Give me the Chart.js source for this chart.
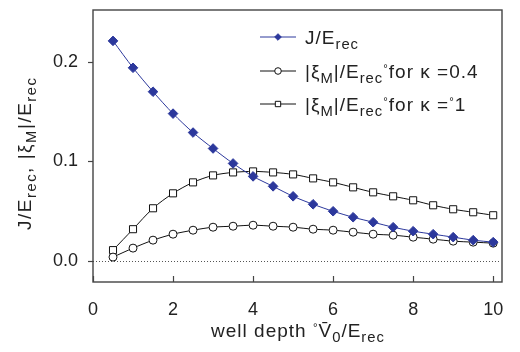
<!DOCTYPE html>
<html>
<head>
<meta charset="utf-8">
<script src="https://cdn.jsdelivr.net/npm/chart.js@4/dist/chart.umd.min.js"></script>
<style>
  html, body { margin: 0; padding: 0; background: #fff; }
  #wrap { width: 520px; height: 352px; }
</style>
</head>
<body>
<div id="wrap"><canvas id="grafico"></canvas></div>
<script>
// valores
const profundidade = [0.5, 1, 1.5, 2, 2.5, 3, 3.5, 4, 4.5, 5, 5.5, 6, 6.5, 7, 7.5, 8, 8.5, 9, 9.5, 10];
const jErec = [0.221, 0.194, 0.170, 0.148, 0.129, 0.113, 0.098, 0.085, 0.075, 0.065,
  0.057, 0.050, 0.044, 0.039, 0.034, 0.030, 0.027, 0.024, 0.021, 0.019];
const xiKappa04 = [0.004, 0.013, 0.021, 0.027, 0.031, 0.034, 0.035, 0.036, 0.035, 0.034,
  0.032, 0.031, 0.029, 0.027, 0.026, 0.024, 0.022, 0.020, 0.019, 0.018];
const xiKappa1 = [0.011, 0.032, 0.053, 0.068, 0.079, 0.086, 0.089, 0.090, 0.089, 0.087,
  0.083, 0.079, 0.074, 0.069, 0.065, 0.061, 0.056, 0.052, 0.049, 0.046];
const xTicks = [0, 2, 4, 6, 8, 10];
const yTicks = [0.0, 0.1, 0.2];

const FONTE = '"Liberation Sans", Arial, sans-serif';
const AZUL = '#2c389c';

const pontos = (ys) => profundidade.map((x, i) => ({ x: x, y: ys[i] }));

// texto com subscritos: partes = [[texto, 'n'|'sub'|'sup'], ...], desenhado letra a letra
function estiloParte(tipo, tam) {
  if (tipo === 'sub') return { s: tam * 0.78, dy: tam * 0.27 };
  if (tipo === 'sup') return { s: tam * 0.6, dy: -tam * 0.34 };
  return { s: tam, dy: 0 };
}
function textoRico(ctx, partes, x, y, tam, esp, desenhar) {
  ctx.textBaseline = 'alphabetic';
  ctx.textAlign = 'left';
  const x0 = x;
  partes.forEach(([t, tipo]) => {
    const { s, dy } = estiloParte(tipo, tam);
    ctx.font = s + 'px ' + FONTE;
    (t.match(/.\u0304?/gu) || []).forEach(c => {
      if (desenhar) ctx.fillText(c, x, y + dy);
      x += ctx.measureText(c).width + esp;
    });
  });
  return x - x0 - esp;
}

const legendaItens = [
  { partes: [['J/E', 'n'], ['rec', 'sub']], cor: AZUL, estilo: 'rectRot', fill: AZUL },
  { partes: [['|ξ', 'n'], ['M', 'sub'], ['|/E', 'n'], ['rec', 'sub'], ['°', 'sup'], ['for κ =0.4', 'n']], cor: '#111', estilo: 'circle', fill: '#fff' },
  { partes: [['|ξ', 'n'], ['M', 'sub'], ['|/E', 'n'], ['rec', 'sub'], ['°', 'sup'], ['for κ =', 'n'], ['°', 'sup'], ['1', 'n']], cor: '#111', estilo: 'rect', fill: '#fff' }
];

const extras = {
  id: 'extras',
  beforeDatasetsDraw(chart) {
    const { ctx, chartArea: a, scales: { y } } = chart;
    ctx.save();
    // linha pontilhada em zero
    ctx.strokeStyle = '#555';
    ctx.lineWidth = 1;
    ctx.setLineDash([1, 2]);
    ctx.beginPath();
    ctx.moveTo(a.left, Math.round(y.getPixelForValue(0)) + 0.5);
    ctx.lineTo(a.right - 2, Math.round(y.getPixelForValue(0)) + 0.5);
    ctx.stroke();
    ctx.restore();
  },
  afterDraw(chart) {
    const { ctx, chartArea: a, scales: { x, y } } = chart;
    ctx.save();
    // moldura
    ctx.strokeStyle = '#444';
    ctx.lineWidth = 1.4;
    ctx.strokeRect(a.left, a.top, a.right - a.left, a.bottom - a.top);
    // ticks para dentro no eixo x
    ctx.lineWidth = 1.2;
    xTicks.forEach(v => {
      const px = Math.round(x.getPixelForValue(v)) + 0.5;
      ctx.beginPath();
      ctx.moveTo(px, a.bottom);
      ctx.lineTo(px, a.bottom - 6);
      ctx.stroke();
    });
    // ticks para fora no eixo y
    yTicks.forEach(v => {
      const py = Math.round(y.getPixelForValue(v)) + 0.5;
      ctx.beginPath();
      ctx.moveTo(a.left - 5, py);
      ctx.lineTo(a.left, py);
      ctx.stroke();
    });

    ctx.fillStyle = '#222';
    // titulo eixo x
    const tituloX = [['well depth ', 'n'], ['°', 'sup'], ['V\u0304', 'n'], ['0', 'sub'], ['/E', 'n'], ['rec', 'sub']];
    const wx = textoRico(ctx, tituloX, 0, 0, 19, 1, false);
    textoRico(ctx, tituloX, (a.left + a.right) / 2 - wx / 2, 337, 19, 1, true);

    // titulo eixo y
    const tituloY = [['J/E', 'n'], ['rec', 'sub'], [', |ξ', 'n'], ['M', 'sub'], ['|/E', 'n'], ['rec', 'sub']];
    const wy = textoRico(ctx, tituloY, 0, 0, 19, 1.5, false);
    ctx.save();
    ctx.translate(31, 154);
    ctx.rotate(-Math.PI / 2);
    textoRico(ctx, tituloY, -wy / 2, 0, 19, 1.5, true);
    ctx.restore();

    // legenda
    [37, 71, 104].forEach((cy, i) => {
      const item = legendaItens[i];
      ctx.strokeStyle = item.cor;
      ctx.lineWidth = 1;
      ctx.beginPath();
      ctx.moveTo(260, cy);
      ctx.lineTo(296, cy);
      ctx.stroke();
      ctx.fillStyle = item.fill;
      ctx.strokeStyle = item.cor;
      Chart.helpers.drawPoint(ctx, { pointStyle: item.estilo, radius: item.estilo === 'rect' ? 3.8 : 3.3, borderWidth: 1 }, 278, cy);
      ctx.fillStyle = '#222';
      textoRico(ctx, item.partes, 305, cy + 7, 19, 1, true);
    });
    ctx.restore();
  }
};

const semPadding = (s) => { s.paddingTop = 0; s.paddingBottom = 0; s.paddingLeft = 0; s.paddingRight = 0; };

new Chart(document.getElementById('grafico'), {
  type: 'scatter',
  data: {
    datasets: [
      {
        label: 'J/Erec',
        data: pontos(jErec),
        showLine: true,
        borderColor: AZUL,
        backgroundColor: AZUL,
        borderWidth: 1,
        pointStyle: 'rectRot',
        pointRadius: 4.8,
        pointBorderWidth: 1,
        tension: 0.3
      },
      {
        label: '|ξM|/Erec for κ=0.4',
        data: pontos(xiKappa04),
        showLine: true,
        borderColor: '#111',
        backgroundColor: '#fff',
        borderWidth: 1,
        pointStyle: 'circle',
        pointRadius: 4,
        pointBorderWidth: 1,
        tension: 0.3
      },
      {
        label: '|ξM|/Erec for κ=1',
        data: pontos(xiKappa1),
        showLine: true,
        borderColor: '#111',
        backgroundColor: '#fff',
        borderWidth: 1,
        pointStyle: 'rect',
        pointRadius: 5,
        pointBorderWidth: 1,
        tension: 0.3
      }
    ]
  },
  options: {
    responsive: true,
    maintainAspectRatio: false,
    animation: false,
    layout: { padding: { top: 10, right: 18, left: 0, bottom: 0 } },
    plugins: {
      legend: { display: false },
      tooltip: { enabled: false }
    },
    scales: {
      x: {
        type: 'linear',
        min: 0,
        max: 10.22,
        afterFit: (s) => { s.height = 70; semPadding(s); },
        afterBuildTicks: (s) => { s.ticks = xTicks.map(v => ({ value: v })); },
        grid: { display: false },
        border: { display: false },
        ticks: {
          padding: 9,
          color: '#222',
          font: { family: FONTE, size: 18 },
          callback: (v) => String(v)
        }
      },
      y: {
        type: 'linear',
        min: -0.021,
        max: 0.252,
        afterFit: (s) => { s.width = 93; semPadding(s); },
        afterBuildTicks: (s) => { s.ticks = yTicks.map(v => ({ value: v })); },
        grid: { display: false },
        border: { display: false },
        ticks: {
          padding: 7,
          color: '#222',
          font: { family: FONTE, size: 18 },
          callback: (v) => v.toFixed(1)
        }
      }
    }
  },
  plugins: [extras]
});
</script>
</body>
</html>
